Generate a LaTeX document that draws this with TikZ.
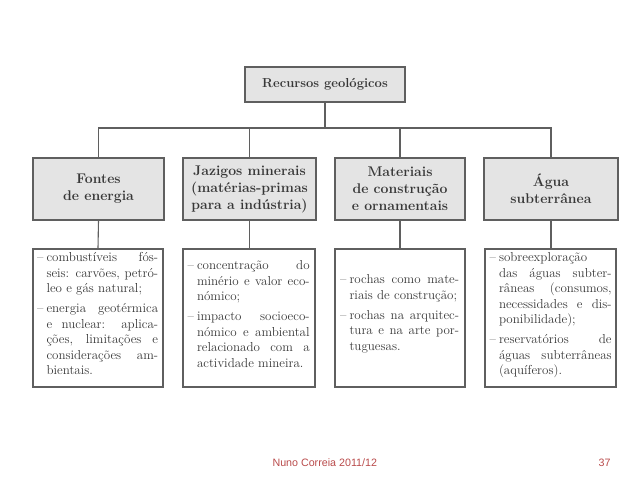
\documentclass[tikz,border=0pt]{standalone}
\usepackage{fontspec}
\newfontfamily\footfont{Liberation Sans}
\usepackage{xcolor}
\usepackage{tikz}
\usetikzlibrary{positioning, calc}

\definecolor{inkgray}{RGB}{55,55,55}
\definecolor{linegray}{RGB}{95,95,95}
\definecolor{boxfill}{RGB}{228,228,228}
\definecolor{footred}{RGB}{185,75,75}

% one item of a list, with a hanging dash
\newcommand{\itm}[1]{\noindent\makebox[0.72em][l]{--}%
  \parbox[t]{\dimexpr\linewidth-0.72em\relax}{\leftskip=0pt\rightskip=0pt\parfillskip=0pt plus 1fil\strut #1\strut}\par}
\newcommand{\itmgap}{\vspace{3.5pt}}

\tikzset{
  headbox/.style={draw=linegray, line width=1.1pt, fill=boxfill, inner sep=0pt,
    font=\fontsize{14}{17}\selectfont\bfseries, text=inkgray, align=center},
  listbox/.style={draw=linegray, line width=1.1pt, inner sep=0pt},
  listtext/.style={text width=121pt, inner sep=0pt, anchor=north west, align=justify,
    font=\fontsize{13}{15.5}\selectfont, text=inkgray},
  link/.style={draw=linegray, line width=1.1pt}
}

\begin{document}
\begin{tikzpicture}[x=1pt,y=-1pt]
  \useasboundingbox (0,0) rectangle (638,479);

  % Top box
  \node[headbox, font=\fontsize{13}{16}\selectfont\bfseries, minimum width=160pt, minimum height=35pt] (rec) at (325,84.5) {Recursos geológicos};

  % Second row
  \node[headbox, minimum width=131pt, minimum height=62pt] (fontes) at (98.5,189) {Fontes\\de energia};
  \node[headbox, minimum width=133pt, minimum height=62pt] (jazigos) at (249.5,189) {Jazigos minerais\\(matérias-primas\\para a indústria)};
  \node[headbox, minimum width=130pt, minimum height=62pt] (materiais) at (400,189) {Materiais\\de construção\\e ornamentais};
  \node[headbox, minimum width=134pt, minimum height=62pt] (agua) at (551,189) {Água\\subterrânea};

  % Third row (frames)
  \node[listbox, minimum width=130pt, minimum height=138pt] (lfontes) at (98,318) {};
  \node[listbox, minimum width=132pt, minimum height=138pt] (ljazigos) at (249,318) {};
  \node[listbox, minimum width=130pt, minimum height=138pt] (lmateriais) at (400,318) {};
  \node[listbox, minimum width=131pt, minimum height=138pt] (lagua) at (550.5,318) {};

  % Connectors
  \coordinate (bar) at (325,128);
  \draw[link] (rec.south) -- (bar);
  \draw[link] (fontes.north) |- (bar) -| (agua.north);
  \draw[link] (jazigos.north) -- (jazigos.north |- bar);
  \draw[link] (materiais.north) -- (materiais.north |- bar);
  \draw[link] (fontes.south) -- (lfontes.north);
  \draw[link] (jazigos.south) -- (jazigos.south |- ljazigos.north);
  \draw[link] (materiais.south) -- (lmateriais.north);
  \draw[link] (agua.south) -- (agua.south |- lagua.north);

  % List texts
  \node[listtext, text width=121pt] (tfontes) at ($(lfontes.north west)+(4.5,2)$) {%
    \itm{combustíveis fós-\linebreak seis: carvões, petró-\linebreak leo e gás natural;}\itmgap
    \itm{energia geotérmica\linebreak e nuclear: aplica-\linebreak ções, limitações e\linebreak considerações am-\linebreak bientais.}};
  \node[listtext, text width=122pt] (tjazigos) at ($(ljazigos.north west)+(5,10)$) {%
    \itm{concentração do\linebreak minério e valor eco-\linebreak nómico;}\itmgap
    \itm{impacto socioeco-\linebreak nómico e ambiental\linebreak relacionado com a\linebreak actividade mineira.}};
  \node[listtext, text width=119pt] (tmateriais) at ($(lmateriais.north west)+(5.5,24)$) {%
    \itm{rochas como mate-\linebreak riais de construção;}\itmgap
    \itm{rochas na arquitec-\linebreak tura e na arte por-\linebreak tuguesas.}};
  \node[listtext, text width=122pt] (tagua) at ($(lagua.north west)+(5,2)$) {%
    \itm{sobreexploração\linebreak das águas subter-\linebreak râneas (consumos,\linebreak necessidades e dis-\linebreak ponibilidade);}\itmgap
    \itm{reservatórios de\linebreak águas subterrâneas\linebreak (aquíferos).}};

  % Footer
  \node[font=\footfont\fontsize{10.7}{12}\selectfont, text=footred, anchor=west] (autor) at (269,463) {Nuno Correia 2011/12};
  \node[font=\footfont\fontsize{10.7}{12}\selectfont, text=footred, anchor=east] (pagina) at (614,463) {37};
\end{tikzpicture}
\end{document}
